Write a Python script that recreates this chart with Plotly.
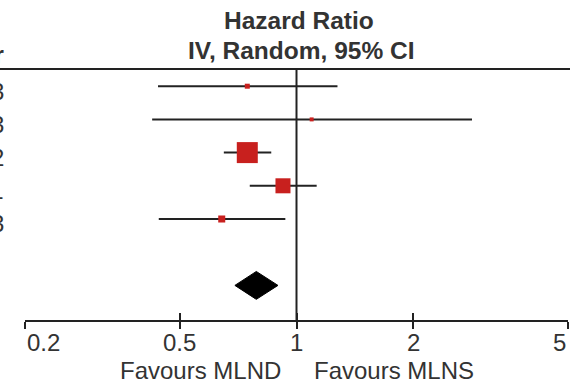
import math
import plotly.graph_objects as go

# ---- data ----
years = ["2013", "2013", "2012", "2011", "2013"]
hr = [0.747, 1.094, 0.747, 0.923, 0.642]
ci_low = [0.440, 0.425, 0.650, 0.758, 0.442]
ci_high = [1.275, 2.83, 0.861, 1.127, 0.936]
weights = [3.3, 2.1, 58.3, 29.8, 6.5]
pooled = {"hr": 0.788, "low": 0.694, "high": 0.896}
tick_vals = [0.2, 0.5, 1, 2, 5]
tick_text = ["0.2", "0.5", "1", "2", "5"]

rows = list(range(1, len(hr) + 1))
pooled_row = len(hr) + 2

FONT = "Liberation Sans, Arial, sans-serif"
TXT = "#333333"
LINE = "#222222"
RED = "#c8201e"
FS = 24
FSB = 24.5

W, H = 570, 384
ML, MR, MT, MB = 25, 2, 69, 64
plot_h = H - MT - MB

fig = go.Figure()

# study estimates with CIs
fig.add_trace(go.Scatter(
    x=hr, y=rows, mode="markers",
    marker=dict(symbol="square", color=RED, opacity=1,
                size=[2.75 * math.sqrt(w) for w in weights],
                line=dict(width=0)),
    error_x=dict(type="data", symmetric=False,
                 array=[h - e for h, e in zip(ci_high, hr)],
                 arrayminus=[e - l for e, l in zip(hr, ci_low)],
                 color=LINE, thickness=2, width=0),
    cliponaxis=False, showlegend=False, hoverinfo="skip",
))

# pooled diamond
dh = 0.42
fig.add_trace(go.Scatter(
    x=[pooled["low"], pooled["hr"], pooled["high"], pooled["hr"], pooled["low"]],
    y=[pooled_row, pooled_row - dh, pooled_row, pooled_row + dh, pooled_row],
    mode="lines", fill="toself", fillcolor="black",
    line=dict(color="black", width=1),
    showlegend=False, hoverinfo="skip",
))

rng = [math.log10(tick_vals[0]), math.log10(tick_vals[-1])]
fig.update_layout(
    width=W, height=H,
    margin=dict(l=ML, r=MR, t=MT, b=MB, pad=0),
    paper_bgcolor="white", plot_bgcolor="white",
    font=dict(family=FONT, color=TXT, size=FS),
    xaxis=dict(type="log", range=rng, showgrid=False, zeroline=False,
               showline=True, linewidth=2, linecolor=LINE,
               tickvals=tick_vals, ticktext=[""] * len(tick_vals),
               ticks="outside", ticklen=7, tickwidth=2, tickcolor=LINE),
    xaxis2=dict(type="log", range=rng, overlaying="x", anchor="y", side="bottom",
                showgrid=False, zeroline=False, showline=False,
                tickvals=tick_vals, showticklabels=False,
                ticks="inside", ticklen=7, tickwidth=2, tickcolor=LINE),
    yaxis=dict(range=[8.042, 0.482], visible=False, showgrid=False, zeroline=False),
)
# dummy trace to activate xaxis2
fig.add_trace(go.Scatter(x=[1], y=[None], xaxis="x2", showlegend=False, hoverinfo="skip"))

# header line and no-effect line
fig.add_shape(type="line", xref="paper", yref="paper", x0=-0.1, x1=1.1, y0=1, y1=1,
              line=dict(color=LINE, width=2))
fig.add_shape(type="line", xref="x", yref="paper", x0=1, x1=1, y0=0, y1=1,
              line=dict(color=LINE, width=2))

# titles
fig.add_annotation(text="<b>Hazard Ratio</b>", xref="paper", yref="paper",
                   x=(298.5 - ML) / (W - ML - MR), y=(H - MB - 21) / plot_h,
                   xanchor="center", yanchor="middle", showarrow=False,
                   font=dict(size=FSB, color=TXT))
fig.add_annotation(text="<b>IV, Random, 95% CI</b>", xref="paper", yref="paper",
                   x=(301 - ML) / (W - ML - MR), y=(H - MB - 50) / plot_h,
                   xanchor="center", yanchor="middle", showarrow=False,
                   font=dict(size=FSB, color=TXT))

# clipped left column (Year)
left_x = (6 - ML) / (W - ML - MR)
fig.add_annotation(text="<b>Year</b>", xref="paper", yref="paper",
                   x=left_x, y=(H - MB - 54) / plot_h,
                   xanchor="right", yanchor="middle", showarrow=False,
                   font=dict(size=FS, color=TXT))
for r, yv in zip(rows, years):
    fig.add_annotation(text=yv, xref="paper", yref="y", x=left_x, y=r + 0.15,
                       xanchor="right", yanchor="middle", showarrow=False,
                       font=dict(size=FS, color=TXT))

# tick labels
for i, (v, t) in enumerate(zip(tick_vals, tick_text)):
    anchor = "left" if i == 0 else ("right" if i == len(tick_vals) - 1 else "center")
    fig.add_annotation(text=t, xref="x", yref="paper", x=math.log10(v),
                       y=-22.5 / plot_h, xanchor=anchor, yanchor="middle",
                       showarrow=False, font=dict(size=FS, color=TXT))

# favours labels
fig.add_annotation(text="Favours MLND", xref="paper", yref="paper",
                   x=(283 - ML) / (W - ML - MR), y=-50 / plot_h,
                   xanchor="right", yanchor="middle", showarrow=False,
                   font=dict(size=FS, color=TXT))
fig.add_annotation(text="Favours MLNS", xref="paper", yref="paper",
                   x=(312 - ML) / (W - ML - MR), y=-50 / plot_h,
                   xanchor="left", yanchor="middle", showarrow=False,
                   font=dict(size=FS, color=TXT))

fig.write_html("out.html")
